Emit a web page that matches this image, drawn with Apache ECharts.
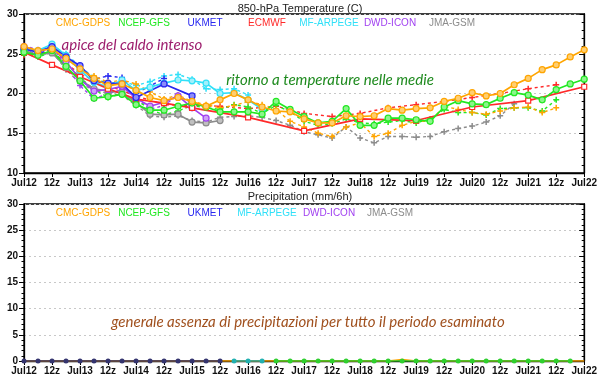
<!DOCTYPE html>
<html><head><meta charset="utf-8">
<script src="https://cdn.jsdelivr.net/npm/echarts@6/dist/echarts.min.js"></script>
<style>html,body{margin:0;padding:0;background:#fff}#c{width:600px;height:379px}</style>
</head><body><div id="c"></div>
<script>
const times = ['Jul12 00z','Jul12 06z','Jul12 12z','Jul12 18z','Jul13 00z','Jul13 06z','Jul13 12z','Jul13 18z',
'Jul14 00z','Jul14 06z','Jul14 12z','Jul14 18z','Jul15 00z','Jul15 06z','Jul15 12z','Jul15 18z',
'Jul16 00z','Jul16 06z','Jul16 12z','Jul16 18z','Jul17 00z','Jul17 06z','Jul17 12z','Jul17 18z',
'Jul18 00z','Jul18 06z','Jul18 12z','Jul18 18z','Jul19 00z','Jul19 06z','Jul19 12z','Jul19 18z',
'Jul20 00z','Jul20 06z','Jul20 12z','Jul20 18z','Jul21 00z','Jul21 06z','Jul21 12z','Jul21 18z','Jul22 00z'];
const tempTicks = [10,15,20,25,30];
const precipTicks = [0,5,10,15,20,25,30];
const modelNames = ['CMC-GDPS','NCEP-GFS','UKMET','ECMWF','MF-ARPEGE','DWD-ICON','JMA-GSM'];

// 850 hPa temperature, current run (solid) and previous run (dashed)
const cmcSolid = [25.9,25.4,25.6,24.4,23.1,21.9,21.0,21.2,20.4,19.5,19.1,19.5,19.0,18.4,19.2,20.0,19.2,18.3,17.8,17.7,16.8,16.3,16.3,17.2,17.1,17.2,18.1,17.9,18.1,18.2,19.0,19.4,20.1,19.7,20.0,21.1,21.9,23.0,23.6,24.6,25.5];
const cmcDash  = [25.8,25.3,25.8,24.6,23.0,22.2,21.4,21.7,21.2,20.2,19.3,19.8,19.0,18.6,18.2,18.5,19.0,18.6,18.0,16.5,15.8,15.0,14.6,15.8,16.3,14.6,15.0,16.0,16.5,16.5,18.4,18.0,17.6,17.4,17.8,18.2,18.3,17.6,18.2];
const gfsSolid = [25.2,24.8,25.4,23.4,21.6,19.4,19.6,19.9,18.6,17.9,17.9,18.4,18.8,18.3,17.7,17.7,17.7,17.4,19.0,18.0,17.1,16.3,16.5,18.1,16.0,16.0,16.9,16.9,16.7,16.5,18.3,19.1,18.7,18.6,19.4,20.1,19.8,19.2,20.5,21.2,21.8];
const gfsDash  = [25.0,24.6,25.2,23.8,22.0,20.5,19.5,20.0,19.2,18.0,17.3,17.8,18.5,18.2,18.0,18.6,18.3,17.5,18.5,17.7,16.5,16.0,16.2,16.8,16.3,16.2,16.4,16.6,16.3,16.8,18.0,17.6,17.6,17.3,18.1,18.2,18.2,17.8,19.2];
const ukSolid  = [25.6,25.2,25.9,24.6,23.5,21.6,21.3,21.2,19.5,null,21.2,null,19.7];
const ukDash   = [25.4,25.0,25.6,24.3,23.2,21.8,22.2,22.0,20.0,null,21.9];
const ecSolid  = [25.2,null,23.6,null,22.1,null,20.6,null,19.3,null,18.8,null,18.2,null,null,null,17.0,null,null,null,15.3,null,null,null,16.8,null,null,null,16.6,null,null,null,18.3,null,null,null,19.1,null,null,null,20.85];
const ecDash   = [24.8,null,25.3,null,22.4,null,21.0,null,19.7,null,18.6,null,18.5,null,18.4,null,18.1,null,18.4,null,17.5,null,17.1,null,17.5,null,18.2,null,18.6,null,19.0,null,19.5,null,20.0,null,20.6,null,21.1];
const mfSolid  = [25.5,25.4,26.2,24.8,22.9,21.4,20.8,21.7,20.4,20.8,21.3,21.7,21.6,21.3,20.0,20.1,19.2,18.0];
const mfDash   = [25.7,25.3,26.0,25.0,23.4,22.0,21.2,21.6,21.0,21.5,22.2,22.4,21.8,20.6,20.5,20.6,19.8];
const iconSolid= [25.9,25.3,25.8,24.0,21.8,20.3,20.5,20.9,19.4,18.4,18.9,19.7,18.2,16.9];
const iconDash = [26.0,25.5,25.9,23.5,21.0,19.3,20.0,20.5,19.5,18.0,18.5,19.8,18.7];
const jmaSolid = [25.4,24.9,25.1,23.3,21.7,20.6,20.3,20.1,18.9,17.4,17.3,17.4,16.4,16.3,16.6];
const jmaDash  = [25.2,25.0,25.3,23.0,21.3,20.4,20.0,19.8,18.5,17.2,17.0,17.2,16.6,16.4,17.0,17.1,17.2,17.0,16.6,16.0,15.2,14.8,14.4,15.8,14.4,13.8,14.6,14.6,14.5,14.6,15.2,15.6,15.9,16.4,17.2,18.7];

// precipitation (mm/6h)
const precipCMC  = [0,0,0,0,0,0,0,0,0,0,0,0,0,0,0,0,0,0,0,0,0,0,0,0,0,0,0,0.3,0,0,0,0,0,0,0,0,0,0,0,0,0];
const precipUK   = [0,0,0,0,0,0,0,0,0,0,0,0,0,0,0];
const precipMF   = [null,null,null,null,null,null,null,null,null,null,null,null,null,null,null,0,0,0];
const precipGFS  = [null,null,null,null,null,null,null,null,null,null,null,null,null,null,null,null,null,null,0,0,0,0,0,0,0,0,0,0,0,0,0,0,0,0,0,0,0,0,0,0];

const colors = {cmc:'#FFA500', gfs:'#22E822', uk:'#2828F0', ec:'#FF2A2A', mf:'#30E0F8', icon:'#A040F0', jma:'#8C8C8C'};
const light = {cmc:'#FFCE70', gfs:'#8CF58C', uk:'#8C8CFA', ec:'#FFFFFF', mf:'#A0F0FC', icon:'#CFA0F8', jma:'#C0C0C0'};
const FONT = 'Liberation Sans, Arial, sans-serif';
const plus = 'path://M3,0H5V3H8V5H5V8H3V5H0V3H3Z';

function solid(name, data, key, z) {
  return {name, type:'line', xAxisIndex:0, yAxisIndex:0, data, connectNulls:true, z,
    symbol: key==='ec' ? 'rect' : 'circle', symbolSize: key==='ec' ? 5 : 6, showSymbol:true,
    lineStyle:{color:colors[key], width:1.7},
    itemStyle:{color:light[key], borderColor:colors[key], borderWidth:1.2}, animation:false};
}
function dashed(name, data, key, z) {
  return {name, type:'line', xAxisIndex:0, yAxisIndex:0, data, connectNulls:true, z,
    symbol: plus, symbolSize: 6, showSymbol:true,
    lineStyle:{color:colors[key], width:1.4, type:[3,3]},
    itemStyle:{color:colors[key]}, animation:false};
}
function precip(name, data, col, z, sym) {
  return {name, type:'line', xAxisIndex:1, yAxisIndex:2, data, z,
    symbol:'circle', symbolSize: sym, showSymbol: sym>0,
    lineStyle:{color:col, width:1.4}, itemStyle:{color:col}, animation:false};
}

function xAx(gi) {
  return {type:'category', gridIndex:gi, data:times, boundaryGap:false,
    axisLine:{lineStyle:{color:'#000', width:1.3}},
    axisTick:{interval:1, length:4, lineStyle:{color:'#000'}},
    axisLabel:{interval:1, margin:5, color:'#111', fontFamily:FONT, fontSize:10, fontWeight:'bold',
      formatter: v => v.endsWith('00z') ? v.slice(0,5) : v.slice(6)},
    splitLine:{show:false}};
}
function yAx(gi, ticks, right) {
  return {type:'value', gridIndex:gi, min:ticks[0], max:ticks[ticks.length-1], interval:5,
    position: right ? 'right' : 'left',
    axisLine:{show:true, lineStyle:{color:'#000', width:1.3}},
    axisTick:{show:true, inside: !!right, length:5, lineStyle:{color:'#000'}},
    minorTick:{show:true, splitNumber:5, length:2.5, lineStyle:{color:'#000'}},
    axisLabel:{show:!right, margin:6, color:'#111', fontFamily:FONT, fontSize:10, fontWeight:'bold'},
    splitLine:{show:!right, lineStyle:{color:'#c8c8c8', type:[2,3], width:1}}};
}

const legendTop = [[83,'cmc'],[144,'gfs'],[205,'uk'],[267,'ec'],[329,'mf'],[390,'icon'],[452,'jma']];
const legendBot = [[83,'cmc'],[144,'gfs'],[205,'uk'],[267,'mf'],[329,'icon'],[390,'jma']];
const keyIdx = {cmc:0,gfs:1,uk:2,ec:3,mf:4,icon:5,jma:6};
const graphics = [];
legendTop.forEach(([x,k]) => graphics.push({type:'text', x, y:23, z:100,
  style:{text:modelNames[keyIdx[k]], fill:colors[k], font:'10px '+FONT, align:'center', verticalAlign:'middle'}}));
legendBot.forEach(([x,k]) => graphics.push({type:'text', x, y:213, z:100,
  style:{text:modelNames[keyIdx[k]], fill:colors[k], font:'10px '+FONT, align:'center', verticalAlign:'middle'}}));
graphics.push({type:'text', x:132, y:45, z:100, style:{text:'apice del caldo intenso', fill:'#9C1C6C', font:'italic 15px Lato, sans-serif', align:'center', verticalAlign:'middle'}});
graphics.push({type:'text', x:330, y:80, z:100, style:{text:'ritorno a temperature nelle medie', fill:'#1E8A1E', font:'italic 15px Lato, sans-serif', align:'center', verticalAlign:'middle'}});
graphics.push({type:'text', x:308, y:322, z:100, style:{text:'generale assenza di precipitazioni per tutto il periodo esaminato', fill:'#A0501E', font:'italic 15px Lato, sans-serif', align:'center', verticalAlign:'middle'}});

const chart = echarts.init(document.getElementById('c'), null, {renderer:'canvas'});
chart.setOption({
  animation:false,
  backgroundColor:'#fff',
  title:[
    {text:'850-hPa Temperature (C)', left:'center', top:-2, textStyle:{fontFamily:FONT, fontSize:11, fontWeight:'normal', color:'#222'}},
    {text:'Precipitation (mm/6h)', left:'center', top:186, textStyle:{fontFamily:FONT, fontSize:11, fontWeight:'normal', color:'#222'}}
  ],
  grid:[
    {left:24, right:10, top:14, height:159, show:true, borderColor:'#000', borderWidth:1.3, backgroundColor:'transparent'},
    {left:24, right:10, top:204, height:157, show:true, borderColor:'#000', borderWidth:1.3, backgroundColor:'transparent'}
  ],
  xAxis:[xAx(0), xAx(1)],
  yAxis:[yAx(0,tempTicks,false), yAx(0,tempTicks,true), yAx(1,precipTicks,false), yAx(1,precipTicks,true)],
  graphic: graphics,
  series:[
    dashed('JMA-GSM prev', jmaDash, 'jma', 2),
    dashed('DWD-ICON prev', iconDash, 'icon', 2),
    dashed('MF-ARPEGE prev', mfDash, 'mf', 2),
    dashed('ECMWF prev', ecDash, 'ec', 2),
    dashed('UKMET prev', ukDash, 'uk', 2),
    dashed('NCEP-GFS prev', gfsDash, 'gfs', 2),
    dashed('CMC-GDPS prev', cmcDash, 'cmc', 2),
    solid('JMA-GSM', jmaSolid, 'jma', 3),
    solid('DWD-ICON', iconSolid, 'icon', 3),
    solid('MF-ARPEGE', mfSolid, 'mf', 3),
    solid('ECMWF', ecSolid, 'ec', 3),
    solid('UKMET', ukSolid, 'uk', 3),
    solid('NCEP-GFS', gfsSolid, 'gfs', 3),
    solid('CMC-GDPS', cmcSolid, 'cmc', 3),
    precip('CMC-GDPS precip', precipCMC, colors.cmc, 3, 0),
    precip('NCEP-GFS precip', precipGFS, '#2FCF2F', 4, 5),
    precip('MF-ARPEGE precip', precipMF, '#22B0B0', 4, 5),
    precip('UKMET precip', precipUK, '#34346E', 4, 5)
  ]
});
</script></body></html>
